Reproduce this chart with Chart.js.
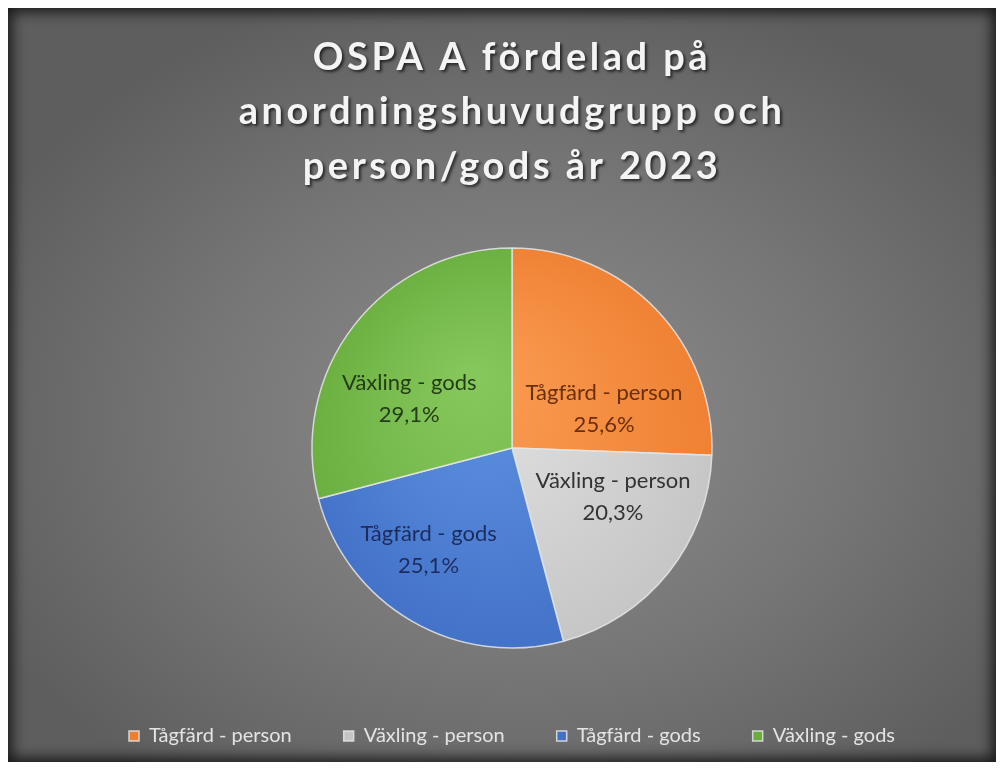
<!DOCTYPE html>
<html>
<head>
<meta charset="utf-8">
<script src="https://cdn.jsdelivr.net/npm/chart.js@4/dist/chart.umd.min.js"></script>
<style>
  html, body { margin: 0; padding: 0; background: #fff; }
  #frame {
    position: absolute; left: 8px; top: 8px; width: 988px; height: 754px;
    background: radial-gradient(ellipse 60% 60% at 52% 55%, #8e8e8e 0%, #767676 55%, #5e5e5e 100%);
    box-shadow: inset 0 0 14px 4px rgba(0,0,0,0.75);
  }
  #ospa { position: absolute; left: 0; top: 0; }
</style>
</head>
<body>
<div id="frame"></div>
<canvas id="ospa" width="1002" height="768"></canvas>
<script>
// OSPA A per anordningshuvudgrupp och person/gods, 2023
const titleLines = ["OSPA A fördelad på", "anordningshuvudgrupp och", "person/gods år 2023"];
const categories = ["Tågfärd - person", "Växling - person", "Tågfärd - gods", "Växling - gods"];
const shares = [25.6, 20.3, 25.1, 29.1]; // percent

// slice colours (light, dark) and label text colour
const sliceLight = ["#fa9c52", "#e2e2e2", "#5f92e2", "#86c75c"];
const sliceDark = ["#ee7f30", "#c4c4c4", "#4170c6", "#69ad3e"];
const labelInk = ["#6a2f0c", "#333333", "#1d2c5e", "#233d14"];

// where Excel put the labels: angle shift (deg) and fraction of radius
const labelShift = [21, -13, 9, -12];
const labelFrac = [0.5, 0.56, 0.66, 0.57];
const PIE_R = 200;

const fmtPct = v => v.toFixed(1).replace(".", ",") + "%";

const sliceFill = (c) => {
    const area = c.chart.chartArea;
    if (!area) return sliceDark[c.dataIndex];
    const cx = (area.left + area.right) / 2;
    const cy = (area.top + area.bottom) / 2;
    const g = c.chart.ctx.createRadialGradient(cx - 40, cy - 70, 10, cx, cy, PIE_R * 1.1);
    g.addColorStop(0, sliceLight[c.dataIndex]);
    g.addColorStop(1, sliceDark[c.dataIndex]);
    return g;
};

// title with shadow, drawn by Chart.js own title block
const titleStyle = {
    id: "titleStyle",
    afterLayout(chart) {
        const tb = chart.titleBlock;
        if (!tb || tb._styled) return;
        const draw = tb.draw;
        tb.draw = function (...args) {
            const c = chart.ctx;
            c.save();
            c.shadowColor = "rgba(0,0,0,0.65)";
            c.shadowOffsetX = 2;
            c.shadowOffsetY = 2;
            c.shadowBlur = 3;
            c.letterSpacing = "3.5px";
            draw.apply(this, args);
            c.restore();
        };
        tb._styled = true;
    }
};

// labels inside the slices
const sliceLabels = {
    id: "sliceLabels",
    afterDatasetsDraw(chart) {
        const ctx = chart.ctx;
        const meta = chart.getDatasetMeta(0);
        ctx.save();
        ctx.font = "22px Lato";
        ctx.textAlign = "center";
        ctx.textBaseline = "middle";
        meta.data.forEach((arc, i) => {
            const mid = (arc.startAngle + arc.endAngle) / 2 + labelShift[i] * Math.PI / 180;
            const r = arc.outerRadius * labelFrac[i];
            const x = arc.x + Math.cos(mid) * r;
            const y = arc.y + Math.sin(mid) * r;
            ctx.fillStyle = labelInk[i];
            ctx.fillText(categories[i], x, y - 16);
            ctx.fillText(fmtPct(shares[i]), x, y + 16);
        });
        ctx.restore();
    }
};

const ctx = document.getElementById("ospa").getContext("2d");
const ospaChart = new Chart(ctx, {
    type: "pie",
    data: {
        labels: categories,
        datasets: [{
            data: shares,
            backgroundColor: sliceFill,
            borderColor: "rgba(230,230,230,0.85)",
            borderWidth: 1.5,
            radius: PIE_R
        }]
    },
    options: {
        responsive: false,
        animation: false,
        devicePixelRatio: 1,
        layout: { padding: { left: 22, right: 0, top: 30, bottom: 12 } },
        plugins: {
            tooltip: { enabled: false },
            title: {
                display: true,
                text: titleLines,
                color: "#f4f4f4",
                font: { family: "Lato", size: 38, weight: "bold", lineHeight: 1.44 },
                padding: { top: 0, bottom: 28 }
            },
            legend: {
                position: "bottom",
                labels: {
                    color: "#e4e4e4",
                    font: { family: "Lato", size: 20 },
                    usePointStyle: true,
                    pointStyle: "rect",
                    boxWidth: 10,
                    boxHeight: 10,
                    padding: 52
                }
            }
        }
    },
    plugins: [titleStyle, sliceLabels]
});
</script>
</body>
</html>
